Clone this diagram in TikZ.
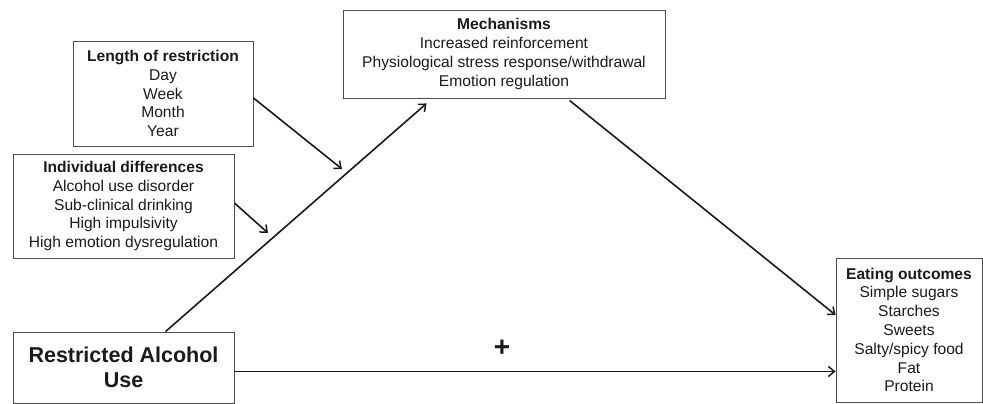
\documentclass[tikz,border=0pt]{standalone}
\usepackage{fontspec}
\setmainfont{Liberation Sans}
\usetikzlibrary{arrows.meta, calc}
\definecolor{BoxLine}{HTML}{4D4D4D}
\definecolor{Ink}    {HTML}{1A1A1A}
\tikzset{
  path arrow/.style={-{Straight Barb[length=6pt,width=10pt,line width=1.5pt]}, line width=1.6pt, draw=Ink},
}

\begin{document}
\begin{tikzpicture}[x=1pt, y=-1pt,
    every node/.style={font=\fontsize{15.6}{18.8}\selectfont, text=Ink},
    box/.style={draw=BoxLine, line width=0.9pt, align=center, inner sep=0pt},
    big/.style={font=\fontsize{21.5}{25}\selectfont\bfseries}]
  \useasboundingbox (0,0) rectangle (983,404);
  % Nodes
  \node[box, minimum width=180pt, minimum height=105pt] (len) at (163,93.5)
    {\textbf{Length of restriction}\\Day\\Week\\Month\\Year};
  \node[box, minimum width=221pt, minimum height=104pt] (ind) at (123.5,206)
    {\textbf{Individual differences}\\Alcohol use disorder\\Sub-clinical drinking\\High impulsivity\\High emotion dysregulation};
  \node[box, big, minimum width=221pt, minimum height=71pt] (rau) at (123.5,367.5)
    {Restricted Alcohol\\Use};
  \node[box, minimum width=322pt, minimum height=88pt] (mech) at (504,54)
    {\textbf{Mechanisms}\\Increased reinforcement\\Physiological stress response/withdrawal\\Emotion regulation};
  \node[box, minimum width=146pt, minimum height=144pt] (eat) at (909,330)
    {\textbf{Eating outcomes}\\Simple sugars\\Starches\\Sweets\\Salty/spicy food\\Fat\\Protein};
  \node[font=\fontsize{28}{30}\selectfont\bfseries] (plus) at (502,348) {+};
  \coordinate (mod1) at (342,169);
  \coordinate (mod2) at (268,233);
  % Arrows
  \draw[path arrow] ([xshift=153pt]rau.north west) -- ([xshift=84pt,yshift=-5pt]mech.south west);
  \draw[path arrow] ([xshift=227pt,yshift=-2pt]mech.south west) -- ([yshift=15pt]eat.west);
  \draw[path arrow] ([yshift=-4pt]rau.east) -- ([yshift=-4pt]rau.east -| eat.west);
  \draw[path arrow] ([yshift=-4.5pt]len.east) -- (mod1);
  \draw[path arrow] ([yshift=3pt]ind.east) -- (mod2);
\end{tikzpicture}
\end{document}
